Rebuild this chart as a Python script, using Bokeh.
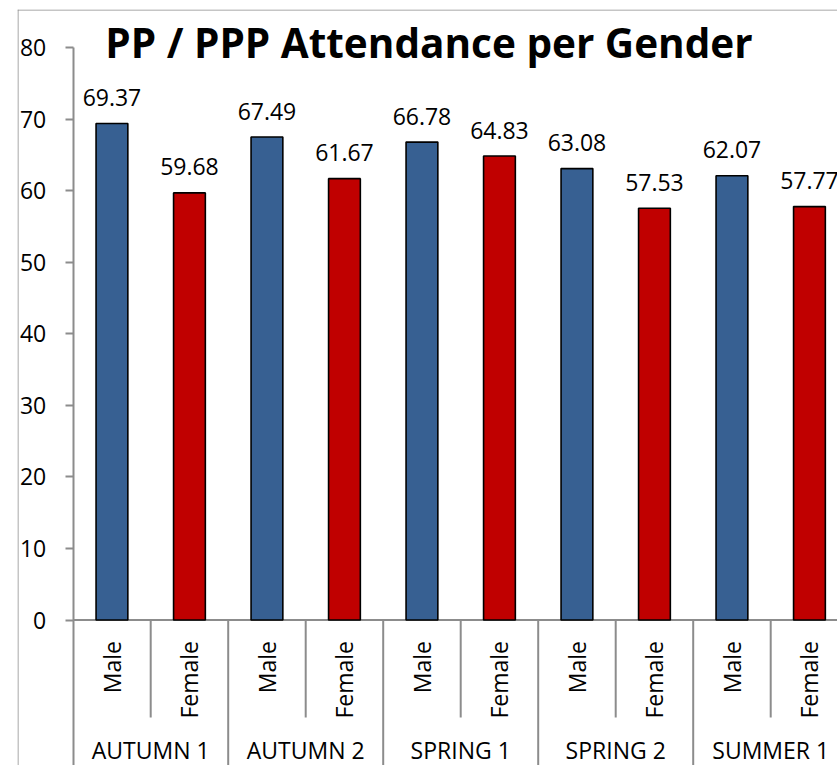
from bokeh.plotting import figure
from bokeh.models import ColumnDataSource, Range1d, FixedTicker
from bokeh.core.properties import value
from bokeh.embed import file_html
from bokeh.resources import INLINE
import math

# ---- data ----
terms = ["AUTUMN 1", "AUTUMN 2", "SPRING 1", "SPRING 2", "SUMMER 1"]
genders = ["Male", "Female"]
male_values = [69.37, 67.49, 66.78, 63.08, 62.07]
female_values = [59.68, 61.67, 64.83, 57.53, 57.77]
y_ticks = [0, 10, 20, 30, 40, 50, 60, 70, 80]
title_text = "PP / PPP Attendance per Gender"

BLUE = "#376092"
RED = "#C00000"
GRID = "#8c8c8c"
FONT = "Open Sans"

# flatten into sub-category slots
xs, vals, cols, sub = [], [], [], []
for i, t in enumerate(terms):
    for j, g in enumerate(genders):
        xs.append(2 * i + j + 0.5)
        vals.append(male_values[i] if j == 0 else female_values[i])
        cols.append(BLUE if j == 0 else RED)
        sub.append(g)
src = ColumnDataSource(dict(x=xs, top=vals, color=cols, sub=sub,
                            lab=["%.2f" % v for v in vals]))

# ---- geometry (pixels) ----
W, H = 837, 765
frame_l, frame_t = 17, 9   # frame = chart area inside the border
axis_x, axis_top, axis_zero = 72.7, 47.0, 619.5
px_per_slot = 77.5
px_per_unit = (axis_zero - axis_top) / 80.0
x_start = -(axis_x - frame_l) / px_per_slot
x_end = (W - axis_x) / px_per_slot
y_end = 80 + (axis_top - frame_t) / px_per_unit
y_start = -(H - axis_zero) / px_per_unit

p = figure(width=W, height=H, output_backend="svg", toolbar_location=None,
           x_range=Range1d(x_start, x_end), y_range=Range1d(y_start, y_end),
           min_border_left=frame_l, min_border_top=frame_t,
           min_border_right=0, min_border_bottom=0, x_axis_location=None)
p.outline_line_color = None
p.grid.visible = False
p.background_fill_color = "white"
p.border_fill_color = "white"

yax = p.yaxis[0]
yax.fixed_location = 0
yax.ticker = FixedTicker(ticks=y_ticks)
yax.bounds = (y_start, 80)
yax.axis_line_color = GRID
yax.axis_line_width = 2
yax.major_tick_line_color = GRID
yax.major_tick_line_width = 2
yax.major_tick_out = 8
yax.major_tick_in = 0
yax.minor_tick_line_color = None
yax.major_label_standoff = 19
yax.major_label_text_font = FONT
yax.major_label_text_font_size = "23px"
yax.major_label_text_color = "black"

# chart border (left and top edges visible)
bx = -(axis_x - (frame_l + 0.5)) / px_per_slot
by = 80 + (axis_top - (frame_t + 0.5)) / px_per_unit
p.segment(x0=[bx, x_start], y0=[y_start, by], x1=[bx, x_end], y1=[y_end, by],
          line_color=GRID, line_width=1)

# horizontal axis line at 0
p.segment(x0=[0], y0=[0], x1=[x_end], y1=[0], line_color=GRID, line_width=2)

# bars
p.vbar(x="x", top="top", bottom=0, width=0.41, source=src, fill_color="color",
       line_color="black", line_width=1.6)

# data labels
p.text(x="x", y="top", text="lab", source=src, text_align="center",
       text_baseline="middle", y_offset=-26, text_font=value(FONT),
       text_font_size="23px", text_color="black")

# category separators
inner_x = [2 * i + 1 for i in range(len(terms))]
outer_x = [2 * i for i in range(1, len(terms))]
inner_bottom = -(717 - axis_zero) / px_per_unit
p.segment(x0=inner_x, y0=[0] * len(inner_x), x1=inner_x, y1=[inner_bottom] * len(inner_x),
          line_color=GRID, line_width=2)
p.segment(x0=outer_x, y0=[0] * len(outer_x), x1=outer_x, y1=[y_start] * len(outer_x),
          line_color=GRID, line_width=2)

# sub-category labels (rotated)
p.text(x="x", y=0, text="sub", source=src, angle=math.pi / 2, text_align="right",
       text_baseline="middle", y_offset=21, text_font=value(FONT),
       text_font_size="23px", text_color="black")

# group labels
gsrc = ColumnDataSource(dict(x=[2 * i + 1 for i in range(len(terms))], t=terms))
p.text(x="x", y=0, text="t", source=gsrc, text_align="center",
       text_baseline="middle", y_offset=130, text_font=value(FONT),
       text_font_size="23px", text_color="black")

# title
p.text(x=[(428.5 - axis_x) / px_per_slot], y=[80 + 5 / px_per_unit], text=[title_text],
       text_align="center", text_baseline="middle", text_font=value(FONT),
       text_font_style="bold", text_font_size="40.5px", text_color="black")

open("out.html", "w").write(file_html(p, INLINE))
